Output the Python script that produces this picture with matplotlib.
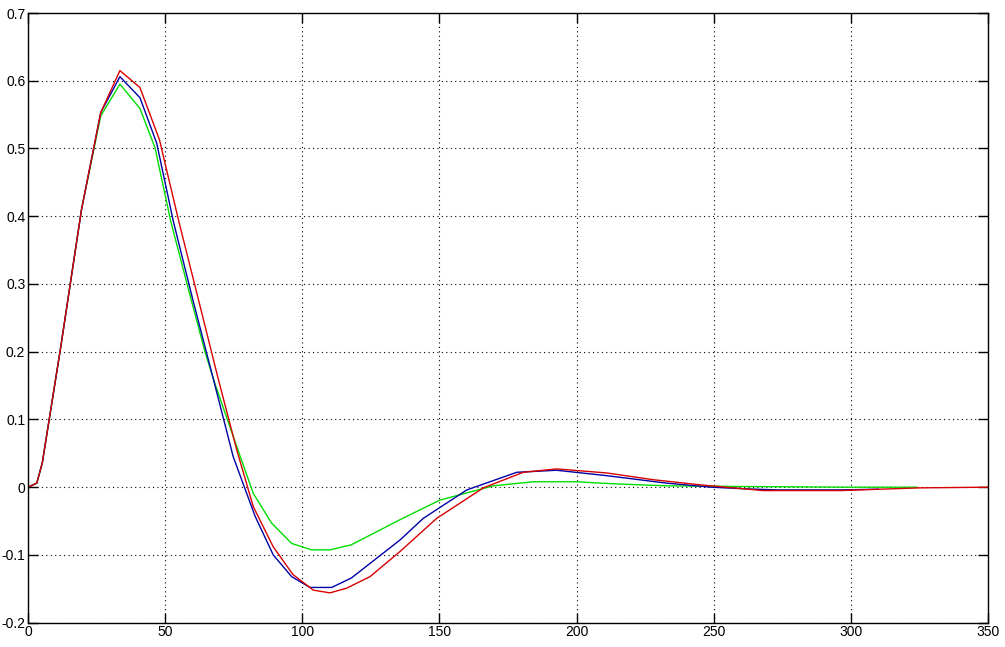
import matplotlib
matplotlib.use("Agg")
import matplotlib.pyplot as plt

# values
x_red = [0, 3.2, 5.2, 12, 19.5, 26.5, 33.5, 40.8, 47.9, 55, 62, 69.4, 76.1, 82.1, 89.4,
         96.6, 104, 110.1, 116.2, 124.7, 135.6, 149, 166, 180.6, 192.7, 211, 228, 245,
         268, 296, 325, 350]
y_red = [0, 0.006, 0.036, 0.209, 0.41, 0.553, 0.615, 0.590, 0.513, 0.392, 0.279, 0.159,
         0.055, -0.0285, -0.088, -0.129, -0.152, -0.156, -0.149, -0.132, -0.095, -0.046,
         -0.001, 0.022, 0.027, 0.021, 0.011, 0.0035, -0.005, -0.005, -0.001, 0]

x_blue = [0, 3.2, 5.2, 12, 19.5, 26.5, 33.5, 40.8, 46.9, 53, 60, 67.6, 74.8, 82.8, 89.4,
          96.1, 102.8, 110.7, 117.9, 135.6, 144.1, 160, 178.2, 192.7, 211, 232.8, 249,
          262, 273, 296, 310]
y_blue = [0, 0.006, 0.036, 0.209, 0.41, 0.553, 0.606, 0.575, 0.508, 0.392, 0.278, 0.159,
          0.045, -0.043, -0.1, -0.132, -0.148, -0.148, -0.134, -0.078, -0.046, -0.004,
          0.022, 0.025, 0.017, 0.006, 0, -0.0025, -0.004, -0.004, -0.003]

x_green = [0, 3.2, 5.2, 12, 19.5, 26.5, 33.5, 40.8, 46.3, 52, 58.1, 64.5, 68.2, 76.1,
           82.1, 88.8, 96.1, 103.4, 110.1, 117.9, 135.6, 150.2, 169.6, 184.2, 200, 213.4,
           232.8, 260, 300, 324]
y_green = [0, 0.006, 0.036, 0.209, 0.41, 0.548, 0.595, 0.559, 0.501, 0.393, 0.298, 0.2,
           0.152, 0.06, -0.009, -0.053, -0.083, -0.0925, -0.0925, -0.085, -0.048, -0.019,
           0.002, 0.008, 0.008, 0.005, 0.002, 0.001, 0, 0]

x_ticks = [0, 50, 100, 150, 200, 250, 300, 350]
y_ticks = [-0.2, -0.1, 0, 0.1, 0.2, 0.3, 0.4, 0.5, 0.6, 0.7]
y_labels = ["-0.2", "-0.1", "0", "0.1", "0.2", "0.3", "0.4", "0.5", "0.6", "0.7"]

plt.rcParams["font.family"] = ["Liberation Sans", "DejaVu Sans"]

fig = plt.figure(figsize=(10.05, 6.47), dpi=100)
ax = fig.add_axes([0.0279, 0.0376, 0.9552, 0.9423])

ax.plot(x_green, y_green, color="#00dd00", linewidth=1.0)
ax.plot(x_blue, y_blue, color="#0000a8", linewidth=1.0)
ax.plot(x_red, y_red, color="#d80000", linewidth=1.0)

ax.set_xlim(0, 350)
ax.set_ylim(-0.2, 0.7)
ax.set_xticks(x_ticks)
ax.set_yticks(y_ticks)
ax.set_yticklabels(y_labels)

ax.grid(True, color="black", linestyle=(0, (1, 3)), linewidth=0.8)
ax.tick_params(direction="in", length=7, width=1, top=True, right=True,
               labelsize=10, pad=2)
for sp in ax.spines.values():
    sp.set_linewidth(1.0)

fig.savefig("out.png", dpi=100)
